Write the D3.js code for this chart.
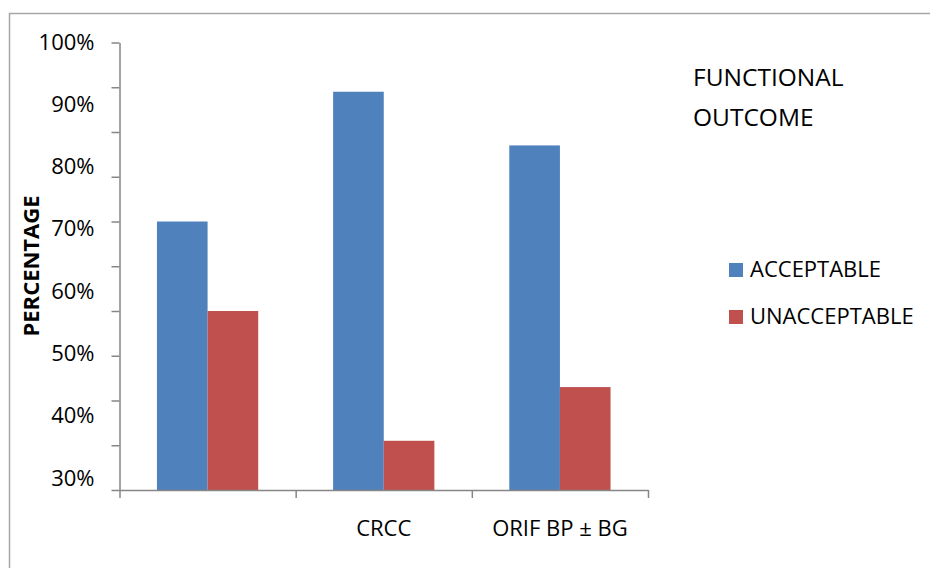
<!DOCTYPE html>
<html>
<head>
<meta charset="utf-8">
<script src="https://cdn.jsdelivr.net/npm/d3@7"></script>
<style>
  body { margin: 0; background: #fff; }
  svg { display: block; font-family: "Open Sans", sans-serif; }
</style>
</head>
<body>
<svg id="chart" width="930" height="568"></svg>
<script>
let categories = ["", "CRCC", "ORIF BP \u00B1 BG"];
let series = ["ACCEPTABLE", "UNACCEPTABLE"];
let acceptable = [60, 89, 77];
let unacceptable = [40, 11, 23];
let yLabels = [30, 40, 50, 60, 70, 80, 90, 100];
let colors = ["#4F81BD", "#C0504D"];

let svg = d3.select("#chart");
let axisColor = "#868686";
let fontSize = "22px";

// frame
svg.append("path")
  .attr("d", "M9.5,568 L9.5,13.5 L930,13.5")
  .attr("fill", "none")
  .attr("stroke", "#a6a6a6")
  .attr("stroke-width", 1.5);

let plotLeft = 119.5, plotRight = 648, plotTop = 42.5, plotBottom = 490;

let yScale = d3.scaleLinear().domain([0, 100]).range([plotBottom, plotTop]);
let labelScale = d3.scaleLinear().domain([30, 100]).range([478, 42]);

let xScale = d3.scaleBand().domain(categories).range([plotLeft, plotRight]).padding(0);
let xSub = d3.scaleBand().domain(series).range([0, xScale.bandwidth()])
  .paddingInner(0).paddingOuter(0.74);
let xTicks = d3.scaleLinear().domain([0, categories.length]).range([plotLeft, plotRight]);

// bars
let rows = categories.map(function(c, i) {
  return { cat: c, values: [acceptable[i], unacceptable[i]] };
});

let groups = svg.append("g").selectAll("g")
  .data(rows)
  .enter()
  .append("g")
  .attr("transform", function(d) { return "translate(" + xScale(d.cat) + ",0)"; });

groups.selectAll("rect")
  .data(function(d) { return d.values.map(function(v, j) { return { s: series[j], v: v, j: j }; }); })
  .enter()
  .append("rect")
  .attr("x", function(d) { return xSub(d.s); })
  .attr("y", function(d) { return yScale(d.v); })
  .attr("width", xSub.bandwidth())
  .attr("height", function(d) { return plotBottom - yScale(d.v); })
  .attr("fill", function(d) { return colors[d.j]; });

// y axis: tick marks
let yAxis = svg.append("g")
  .attr("transform", "translate(" + plotLeft + ",0)")
  .call(d3.axisLeft(yScale).tickValues(d3.range(0, 101, 10)).tickSize(8).tickSizeOuter(0).tickFormat(""));

// y axis: labels
let yLab = svg.append("g")
  .attr("transform", "translate(" + plotLeft + ",0)")
  .call(d3.axisLeft(labelScale).tickValues(yLabels).tickSize(0).tickPadding(25)
    .tickFormat(function(d) { return d + "%"; }));
yLab.select(".domain").remove();
yLab.selectAll("text")
  .attr("font-family", "Open Sans")
  .attr("font-size", fontSize)
  .attr("fill", "#000");

// x axis: tick marks
let xAxis = svg.append("g")
  .attr("transform", "translate(0," + plotBottom + ")")
  .call(d3.axisBottom(xTicks).tickValues(d3.range(0, categories.length + 1)).tickSize(8).tickSizeOuter(0).tickFormat(""));

// x axis: labels
let xLab = svg.append("g")
  .attr("transform", "translate(0," + plotBottom + ")")
  .call(d3.axisBottom(xScale).tickSize(0).tickPadding(30));
xLab.select(".domain").remove();
xLab.selectAll("text")
  .attr("font-family", "Open Sans")
  .attr("font-size", fontSize)
  .attr("fill", "#000");

[yAxis, xAxis].forEach(function(a) {
  a.selectAll("path, line").attr("stroke", axisColor).attr("stroke-width", 1.5);
});

// y title
svg.append("text")
  .attr("transform", "translate(39,266) rotate(-90)")
  .attr("text-anchor", "middle")
  .attr("font-size", fontSize)
  .attr("font-weight", "bold")
  .text("PERCENTAGE");

// legend title
svg.append("text").attr("x", 693).attr("y", 86).attr("font-size", "24.5px").text("FUNCTIONAL");
svg.append("text").attr("x", 693).attr("y", 126).attr("font-size", "24.5px").text("OUTCOME");

// legend
let legend = svg.append("g").selectAll("g")
  .data(series)
  .enter()
  .append("g")
  .attr("transform", function(d, i) { return "translate(729," + (263 + i * 47) + ")"; });
legend.append("rect")
  .attr("width", 14).attr("height", 14)
  .attr("fill", function(d, i) { return colors[i]; });
legend.append("text")
  .attr("x", 21).attr("y", 14)
  .attr("font-size", fontSize)
  .text(function(d) { return d; });
</script>
</body>
</html>
